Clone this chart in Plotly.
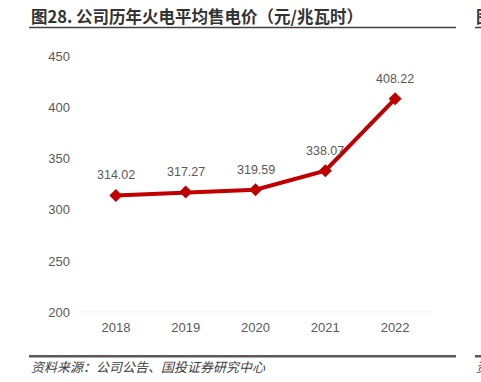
import plotly.graph_objects as go

years = ["2018", "2019", "2020", "2021", "2022"]
prices = [314.02, 317.27, 319.59, 338.07, 408.22]
price_labels = ["314.02", "317.27", "319.59", "338.07", "408.22"]
y_ticks = [200, 250, 300, 350, 400, 450]

W, H = 481, 382
# observed page capture: screen_y ~= 8 + 0.96 * figure_y
SY_OFF, SY_SCALE = 8.0, 0.96


def px(sx):
    return sx / W


def py(sy):
    fy = (sy - SY_OFF) / SY_SCALE
    return (H - fy) / H


fig = go.Figure()

fig.add_trace(go.Scatter(
    x=years, y=prices, mode="lines+markers",
    line=dict(color="#C00000", width=4),
    marker=dict(symbol="diamond", size=10, color="#C00000"),
    hoverinfo="skip", showlegend=False,
))

for i, (v, lab) in enumerate(zip(prices, price_labels)):
    fig.add_annotation(x=i, y=v, text=lab, showarrow=False, yshift=20,
                       xanchor="center", yanchor="middle",
                       font=dict(family="Liberation Sans, Arial", size=12.5, color="#595959"))

fig.update_layout(
    width=W, height=H, autosize=False,
    margin=dict(l=0, r=0, t=0, b=0),
    paper_bgcolor="white", plot_bgcolor="white",
    xaxis=dict(domain=[px(81), px(430)], type="category", range=[-0.5, 4.5],
               showgrid=False, zeroline=False, showline=False, ticks="",
               ticklabelstandoff=6,
               tickfont=dict(family="Liberation Sans, Arial", size=13, color="#595959")),
    yaxis=dict(domain=[py(313), py(57)], range=[200, 450], tickvals=y_ticks,
               showgrid=False, zeroline=False, showline=False, ticks="",
               ticklabelstandoff=10,
               tickfont=dict(family="Liberation Sans, Arial", size=13, color="#595959")),
    font=dict(family="Liberation Sans, Arial"),
)

# baseline at 200
fig.add_shape(type="line", xref="x domain", yref="y", x0=0, x1=1, y0=200, y1=200,
              line=dict(color="#D9D9D9", width=1))

# title, neighbouring-figure fragments and frame lines
fig.add_annotation(xref="paper", yref="paper", x=px(29), y=py(17), xanchor="left", yanchor="middle",
                   text="<b>图28. 公司历年火电平均售电价（元/兆瓦时）</b>", showarrow=False,
                   font=dict(family="Noto Sans CJK SC", size=16.5, color="#333333"))
fig.add_annotation(xref="paper", yref="paper", x=px(474), y=py(17), xanchor="left", yanchor="middle",
                   text="<b>图</b>", showarrow=False,
                   font=dict(family="Noto Sans CJK SC", size=16.5, color="#333333"))
for x0, x1 in [(29, 456), (475, 481)]:
    fig.add_shape(type="line", xref="paper", yref="paper", x0=px(x0), x1=px(x1), y0=py(28.5), y1=py(28.5),
                  line=dict(color="#404040", width=1.5))
    fig.add_shape(type="line", xref="paper", yref="paper", x0=px(x0), x1=px(x1), y0=py(357), y1=py(357),
                  line=dict(color="#595959", width=2.5))

fig.add_annotation(xref="paper", yref="paper", x=px(29), y=py(367), xanchor="left", yanchor="middle",
                   text="资料来源：公司公告、国投证券研究中心", showarrow=False,
                   font=dict(family="Noto Sans CJK SC", size=13, color="#404040", style="italic"))
fig.add_annotation(xref="paper", yref="paper", x=px(474), y=py(367), xanchor="left", yanchor="middle",
                   text="资", showarrow=False,
                   font=dict(family="Noto Sans CJK SC", size=13, color="#404040", style="italic"))

fig.write_html("out.html", config={"displayModeBar": False},
               post_script="document.body.style.margin='0';")
